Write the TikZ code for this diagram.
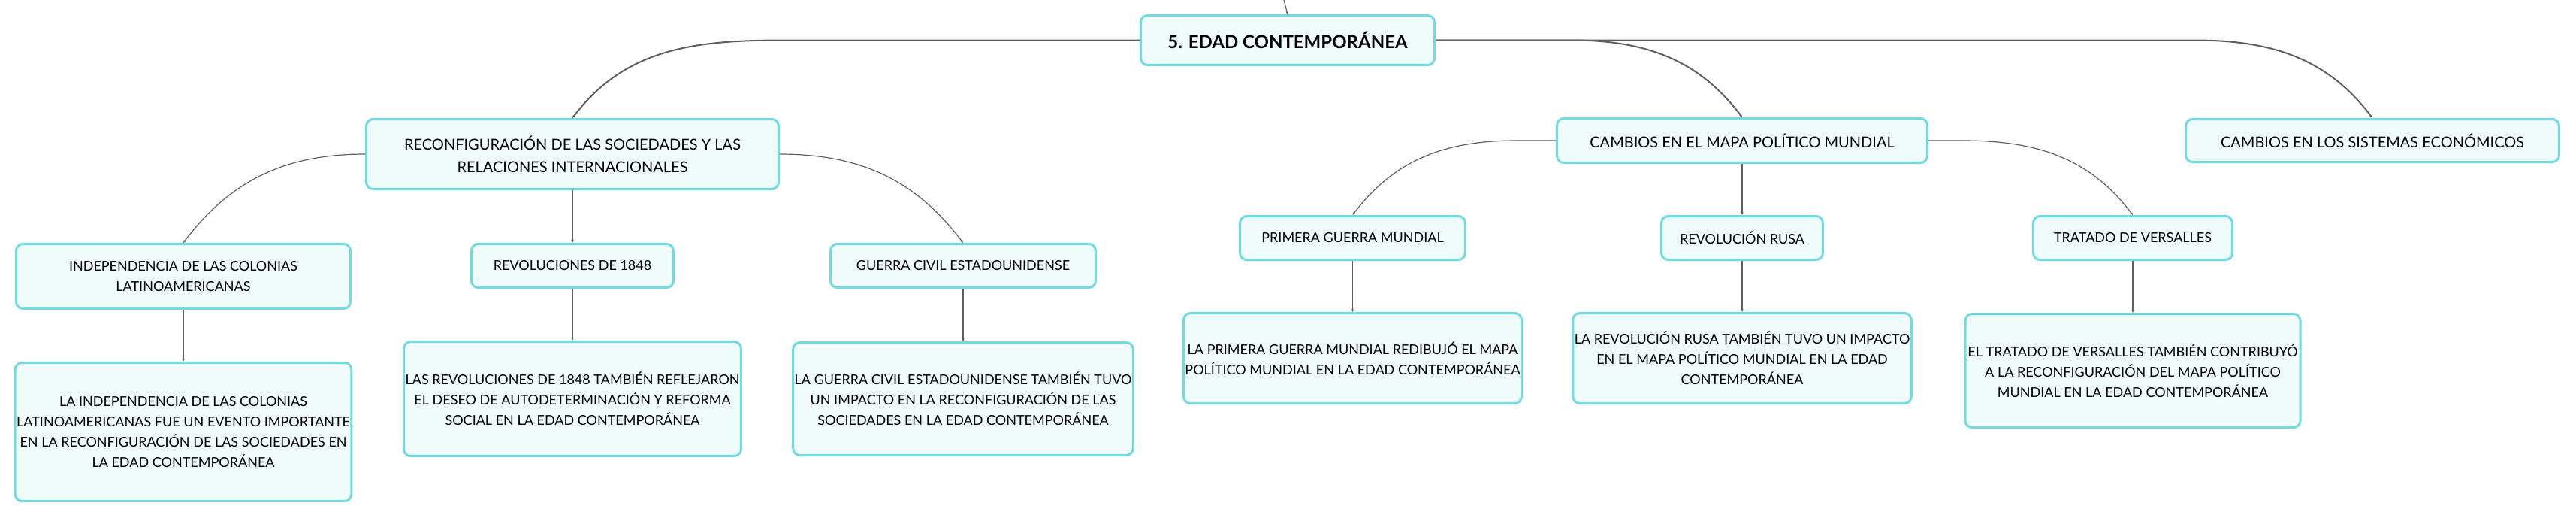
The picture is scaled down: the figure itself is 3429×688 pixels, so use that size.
\documentclass[tikz,border=0pt]{standalone}
\usepackage{fontspec}
\setmainfont{Lato}
\usepackage{tikz}
\usetikzlibrary{positioning}
\usetikzlibrary{arrows.meta}
\definecolor{boxline}{RGB}{112,220,224}
\definecolor{boxfill}{RGB}{240,252,252}
\definecolor{linkgray}{RGB}{95,95,95}
\tikzset{basic/.style={draw=boxline,fill=boxfill,line width=3pt,rounded corners=9pt,align=center,inner sep=2pt}}
\tikzset{root/.style={basic,font=\fontsize{24}{30}\selectfont\bfseries}}
\tikzset{topic/.style={basic,font=\fontsize{20}{30}\selectfont}}
\tikzset{subtopic/.style={basic,font=\fontsize{18}{27}\selectfont,minimum height=58pt}}
\tikzset{detail/.style={basic,font=\fontsize{18}{27}\selectfont,minimum width=446pt}}
\tikzset{link/.style={draw=linkgray,line width=1.2pt,-{Stealth[length=4pt,width=3.5pt]}}}
\tikzset{mainlink/.style={link,line width=2pt}}

\begin{document}
\begin{tikzpicture}[x=1pt,y=1pt]
        \useasboundingbox (0,0) rectangle (3429,-688);
        \node[root,minimum width=391pt,minimum height=66pt] (edad) at (1714,-53.5) {5. EDAD CONTEMPORÁNEA};
        \coordinate (above) at (1709,0);
            \path[link] (above) -- (edad.north);

        % first level
        \node[topic,anchor=north,minimum width=549pt,minimum height=93pt] (reconf) at (762,-157) {RECONFIGURACIÓN DE LAS SOCIEDADES Y LAS\\RELACIONES INTERNACIONALES};
            \path[mainlink] (edad.west) -- ([xshift=285pt]reconf.north |- edad.west) to[out=180,in=53] (reconf.north);
        \node[topic,anchor=north,minimum width=493pt,minimum height=59pt] (mapa) at (2319,-156) {CAMBIOS EN EL MAPA POLÍTICO MUNDIAL};
            \path[mainlink] (edad.east) -- ([xshift=-228pt]mapa.north |- edad.east) to[out=0,in=127] (mapa.north);
        \node[topic,anchor=north,minimum width=497pt,minimum height=57pt] (econ) at (3158,-157) {CAMBIOS EN LOS SISTEMAS ECONÓMICOS};
            \path[mainlink] (edad.east) -- ([xshift=-238pt]econ.north |- edad.east) to[out=0,in=127] (econ.north);

        % reconfiguracion
        \node[subtopic,below=70pt of reconf,minimum width=269pt] (revol) {REVOLUCIONES DE 1848};
            \path[link] (reconf) -- (revol);
        \node[subtopic,left=158pt of revol.north west,anchor=north east,minimum width=445pt,minimum height=86pt] (indep) {INDEPENDENCIA DE LAS COLONIAS\\LATINOAMERICANAS};
            \path[link] (reconf.west) to[out=180,in=53] (indep.north);
        \node[subtopic,right=206pt of revol.north east,anchor=north west,minimum width=353pt] (guerra) {GUERRA CIVIL ESTADOUNIDENSE};
            \path[link] (reconf.east) to[out=0,in=127] (guerra.north);

        \node[detail,below=69pt of indep,minimum height=184pt] (indepD) {LA INDEPENDENCIA DE LAS COLONIAS\\LATINOAMERICANAS FUE UN EVENTO IMPORTANTE\\EN LA RECONFIGURACIÓN DE LAS SOCIEDADES EN\\LA EDAD CONTEMPORÁNEA};
            \path[link] (indep) -- (indepD);
        \node[detail,below=69pt of revol,minimum height=152pt] (revolD) {LAS REVOLUCIONES DE 1848 TAMBIÉN REFLEJARON\\EL DESEO DE AUTODETERMINACIÓN Y REFORMA\\SOCIAL EN LA EDAD CONTEMPORÁNEA};
            \path[link] (revol) -- (revolD);
        \node[detail,below=70pt of guerra,minimum height=150pt] (guerraD) {LA GUERRA CIVIL ESTADOUNIDENSE TAMBIÉN TUVO\\UN IMPACTO EN LA RECONFIGURACIÓN DE LAS\\SOCIEDADES EN LA EDAD CONTEMPORÁNEA};
            \path[link] (guerra) -- (guerraD);

        % mapa politico
        \node[subtopic,below=68pt of mapa,minimum width=215pt] (rusa) {REVOLUCIÓN RUSA};
            \path[link] (mapa) -- (rusa);
        \node[subtopic,left=258pt of rusa,minimum width=300pt] (primera) {PRIMERA GUERRA MUNDIAL};
            \path[link] (mapa.west) -- ([xshift=219pt]primera.north |- mapa.west) to[out=180,in=53] (primera.north);
        \node[subtopic,right=277pt of rusa,minimum width=265pt] (tratado) {TRATADO DE VERSALLES};
            \path[link] (mapa.east) -- ([xshift=-227pt]tratado.north |- mapa.east) to[out=0,in=127] (tratado.north);

        \node[detail,below=68pt of primera,minimum height=120pt] (primeraD) {LA PRIMERA GUERRA MUNDIAL REDIBUJÓ EL MAPA\\POLÍTICO MUNDIAL EN LA EDAD CONTEMPORÁNEA};
            \path[link] (primera) -- (primeraD);
        \node[detail,below=68pt of rusa,minimum height=120pt] (rusaD) {LA REVOLUCIÓN RUSA TAMBIÉN TUVO UN IMPACTO\\EN EL MAPA POLÍTICO MUNDIAL EN LA EDAD\\CONTEMPORÁNEA};
            \path[link] (rusa) -- (rusaD);
        \node[detail,below=69pt of tratado,minimum height=151pt] (tratadoD) {EL TRATADO DE VERSALLES TAMBIÉN CONTRIBUYÓ\\A LA RECONFIGURACIÓN DEL MAPA POLÍTICO\\MUNDIAL EN LA EDAD CONTEMPORÁNEA};
            \path[link] (tratado) -- (tratadoD);
    \end{tikzpicture}
\end{document}
